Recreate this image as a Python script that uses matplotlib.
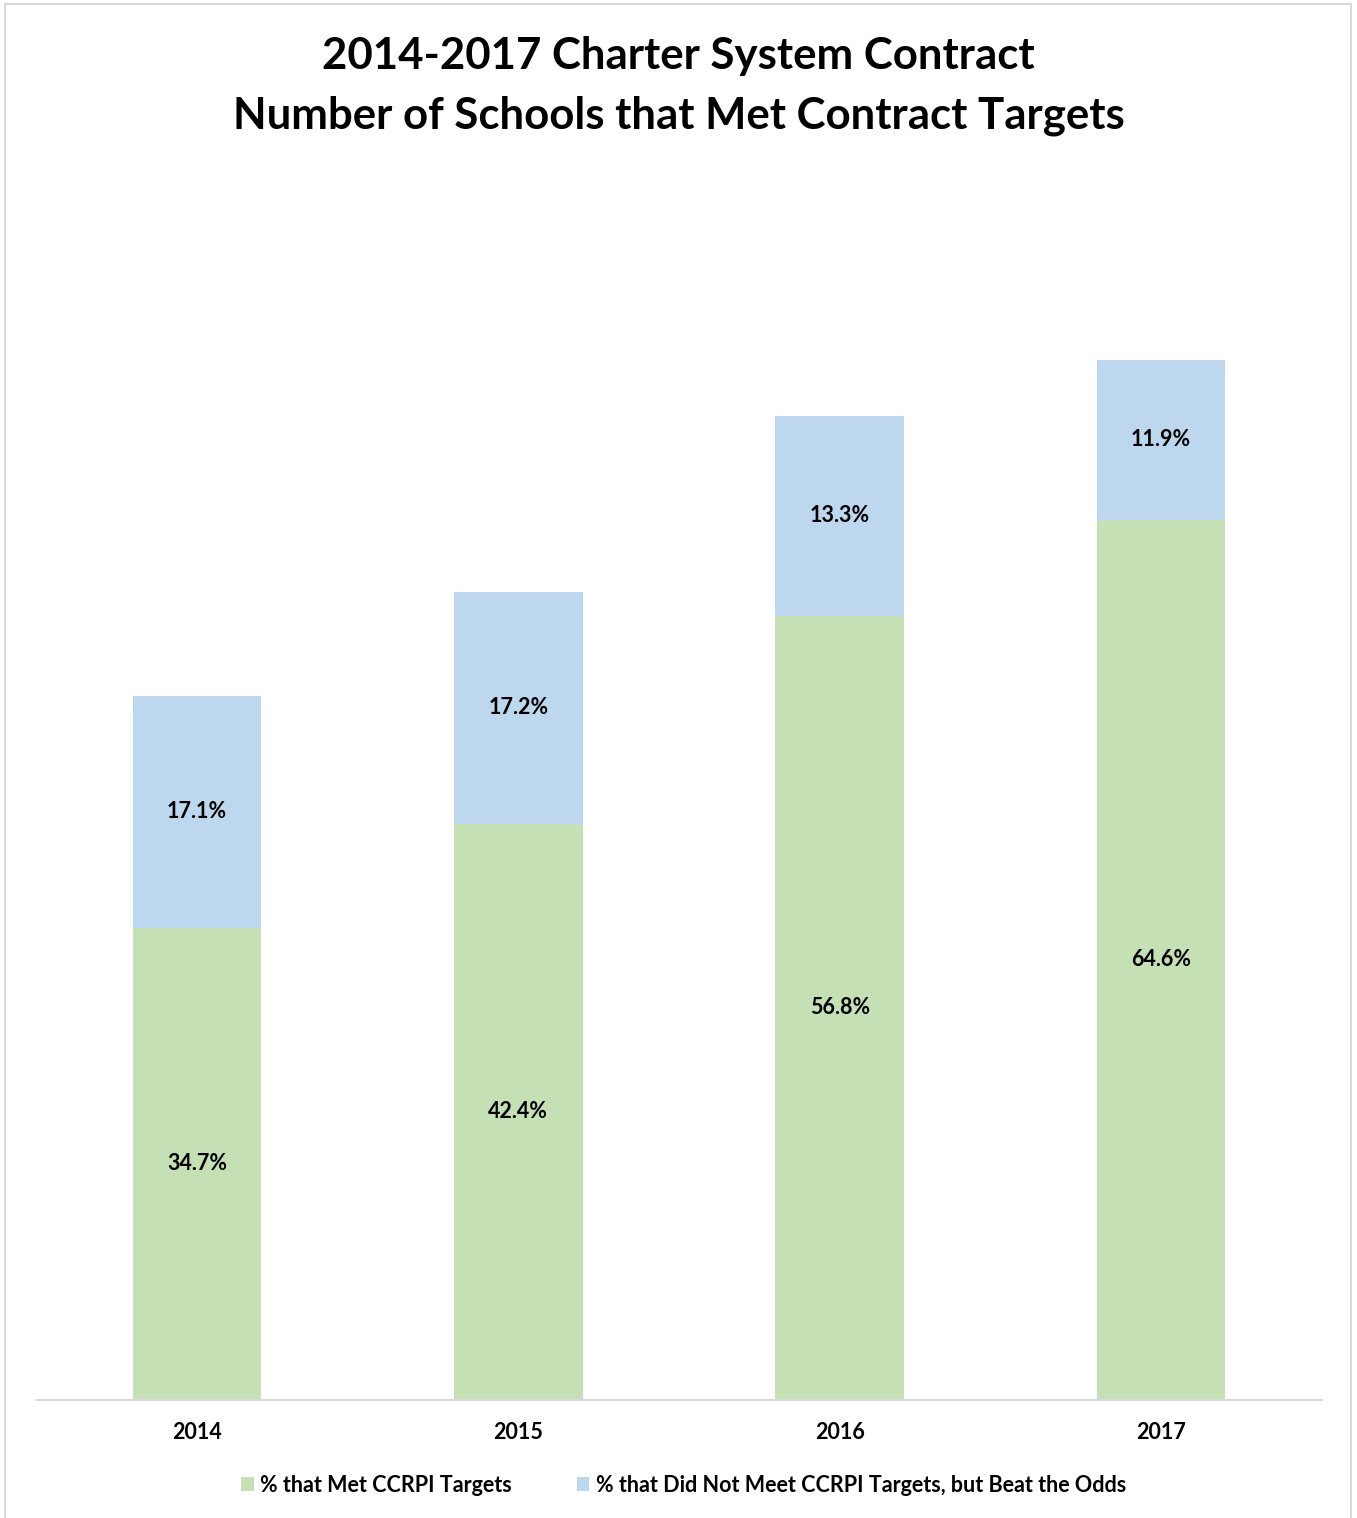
import matplotlib.pyplot as plt
from matplotlib.lines import Line2D

years = ["2014", "2015", "2016", "2017"]
# bar heights = number of schools, labels = percentages
met_count = [59, 72, 98, 110]
beat_count = [29, 29, 25, 20]
met_pct = [34.7, 42.4, 56.8, 64.6]
beat_pct = [17.1, 17.2, 13.3, 11.9]

GREEN = "#C5E0B4"
BLUE = "#BDD7EE"
FONT = "Lato"

W, H = 1357, 1518
fig = plt.figure(figsize=(W / 100, H / 100), dpi=100)

# axes placed in pixel coordinates of the reference, 8 px per school
left, right, base, top = 36.5, 1321.5, 1400, 160
ax = fig.add_axes([left / W, (H - base) / H, (right - left) / W, (base - top) / H])

x = range(len(years))
ax.bar(x, met_count, width=0.4, color=GREEN, label="% that Met CCRPI Targets")
ax.bar(x, beat_count, width=0.4, bottom=met_count, color=BLUE,
       label="% that Did Not Meet CCRPI Targets, but Beat the Odds")

for i in x:
    ax.text(i, met_count[i] / 2, f"{met_pct[i]:.1f}%", ha="center", va="center",
            fontsize=15.5, fontweight="bold", family=FONT)
    ax.text(i, met_count[i] + beat_count[i] / 2, f"{beat_pct[i]:.1f}%", ha="center",
            va="center", fontsize=15.5, fontweight="bold", family=FONT)

ax.set_xlim(-0.5, len(years) - 0.5)
ax.set_ylim(0, (base - top) / 8)
ax.set_yticks([])
ax.set_xticks(list(x))
ax.set_xticklabels(years, fontsize=15.5, fontweight="bold", family=FONT)
ax.tick_params(axis="x", length=0, pad=16)
for s in ["top", "left", "right"]:
    ax.spines[s].set_visible(False)
ax.spines["bottom"].set_color("#D9D9D9")
ax.spines["bottom"].set_linewidth(1.5)

fig.text(0.5, 1 - 56 / H, "2014-2017 Charter System Contract", ha="center", va="center",
         fontsize=31.5, fontweight="bold", family=FONT)
fig.text(0.5, 1 - 116 / H, "Number of Schools that Met Contract Targets", ha="center",
         va="center", fontsize=31.5, fontweight="bold", family=FONT)

fig.legend(loc="center", bbox_to_anchor=(683.5 / W, 1 - 1485 / H), ncol=2, frameon=False,
           prop={"family": FONT, "weight": "bold", "size": 15.5},
           handlelength=0.6, handleheight=0.6, handletextpad=0.3, columnspacing=3.0)

# light chart border
for xs, ys in [([5, 5], [4, H + 5]), ([5, 1351], [4, 4]), ([1351, 1351], [4, H + 5])]:
    fig.add_artist(Line2D([v / W for v in xs], [1 - v / H for v in ys],
                          color="#D9D9D9", linewidth=1.5))

fig.savefig("out.png", dpi=100)
